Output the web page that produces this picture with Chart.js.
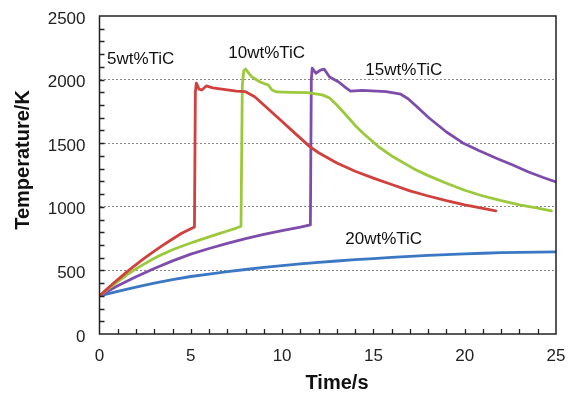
<!DOCTYPE html>
<html>
<head>
<meta charset="utf-8">
<script src="https://cdn.jsdelivr.net/npm/chart.js@4.4.0/dist/chart.umd.min.js"></script>
<style>
  html, body { margin: 0; padding: 0; background: #fff; }
  #wrap { width: 576px; height: 395px; }
</style>
</head>
<body>
<div id="wrap"><canvas id="tempChart" width="576" height="395"></canvas></div>
<script>
// time (s) / temperature (K)
const time5 = [0, 0.5, 1, 1.5, 2, 2.5, 3, 3.5, 4, 4.5, 5.2, 5.25, 5.3, 5.45, 5.6, 5.85, 6.2, 6.7, 7.5, 8.0, 8.5, 9, 9.5, 10, 10.5, 11, 11.5, 12, 13, 14, 15, 16, 17, 18, 19, 20, 21, 21.7]
const temp5 = [300, 365, 428, 488, 545, 600, 652, 700, 747, 792, 842, 1900, 1973, 1925, 1918, 1950, 1935, 1925, 1910, 1905, 1865, 1800, 1735, 1670, 1605, 1540, 1475, 1425, 1345, 1280, 1225, 1175, 1125, 1085, 1048, 1015, 988, 968]

const time10 = [0, 0.5, 1, 1.5, 2, 2.5, 3, 3.5, 4, 4.5, 5, 5.5, 6, 6.5, 7, 7.5, 7.75, 7.82, 7.9, 8.0, 8.35, 8.8, 9.25, 9.45, 9.7, 10.5, 11.4, 12.2, 12.6, 13.0, 13.5, 14, 14.5, 15.3, 16, 17.2, 18, 19, 20, 21, 22, 23, 24, 24.75]
const temp10 = [300, 358, 412, 465, 512, 555, 595, 630, 662, 690, 715, 740, 763, 787, 810, 833, 847, 1950, 2070, 2083, 2020, 1981, 1957, 1918, 1903, 1900, 1897, 1880, 1855, 1800, 1722, 1640, 1570, 1470, 1400, 1300, 1245, 1185, 1130, 1085, 1048, 1015, 990, 968]

const time15 = [0, 1, 2, 3, 4, 5, 6, 7, 8, 9, 10, 11, 11.55, 11.6, 11.65, 11.85, 12.1, 12.3, 12.6, 13.1, 13.5, 13.75, 14.4, 15.7, 16.5, 16.9, 17.4, 18.05, 19, 19.9, 20.8, 21.7, 22.6, 23.5, 24.3, 25]
const temp15 = [300, 380, 450, 515, 575, 628, 672, 712, 750, 783, 812, 840, 858, 2000, 2090, 2050, 2075, 2083, 2020, 1981, 1935, 1910, 1915, 1905, 1885, 1850, 1785, 1698, 1588, 1502, 1440, 1384, 1330, 1274, 1230, 1195]

const time20 = [0, 1, 2, 3, 4, 5, 6, 7, 8, 9, 10, 11, 12, 13, 14, 15, 16, 17, 18, 19, 20, 21, 22, 23, 24, 25]
const temp20 = [300, 335, 368, 400, 428, 452, 470, 490, 507, 523, 538, 552, 563, 574, 584, 593, 602, 610, 618, 624, 630, 635, 639, 642, 644, 645]

const seriesNames = ['5wt%TiC', '10wt%TiC', '15wt%TiC', '20wt%TiC']
const seriesColors = ['#d0403d', '#9cc93c', '#7e4dab', '#3b78c4']

// where the curve names sit, in data units (left edge / middle)
const noteTime = [0.41, 7.05, 14.56, 13.46]
const noteTemp = [2162, 2209, 2075, 747]

function pts(ts, vs) {
    return ts.map(function (t, i) { return { x: t, y: vs[i] } })
}

// frame, inner tick marks, curve names, axis titles
const decor = {
    id: 'decor',
    afterDatasetsDraw(chart) {
        const ctx = chart.ctx
        const a = chart.chartArea
        const xs = chart.scales.x
        const ys = chart.scales.y
        ctx.save()
        ctx.strokeStyle = '#222'
        ctx.lineWidth = 1.3
        ctx.beginPath()
        for (let v = 100; v < 2500; v += 100) {
            let py = Math.round(ys.getPixelForValue(v)) + 0.5
            ctx.moveTo(a.left, py)
            ctx.lineTo(a.left + 5, py)
        }
        for (let t = 1; t < 25; t++) {
            let px = Math.round(xs.getPixelForValue(t)) + 0.5
            ctx.moveTo(px, a.bottom)
            ctx.lineTo(px, a.bottom - 5)
        }
        ctx.stroke()
        ctx.lineWidth = 1.5
        ctx.strokeRect(a.left, a.top, a.right - a.left, a.bottom - a.top)

        ctx.fillStyle = '#111'
        ctx.font = '17px "Liberation Sans", Arial, sans-serif'
        ctx.textAlign = 'left'
        ctx.textBaseline = 'middle'
        for (let i = 0; i < seriesNames.length; i++) {
            ctx.fillText(seriesNames[i], xs.getPixelForValue(noteTime[i]), ys.getPixelForValue(noteTemp[i]))
        }

        ctx.font = 'bold 20px "Liberation Sans", Arial, sans-serif'
        ctx.textAlign = 'center'
        ctx.fillText('Time/s', 337, 383)
        ctx.translate(23, 160)
        ctx.rotate(-Math.PI / 2)
        ctx.fillText('Temperature/K', 0, 0)
        ctx.restore()
    }
}

let chartCtx = document.getElementById('tempChart')

var tempChart = new Chart(chartCtx, {
    type: 'line',
    data: {
        datasets: [
            { label: seriesNames[0], data: pts(time5, temp5), borderColor: seriesColors[0] },
            { label: seriesNames[1], data: pts(time10, temp10), borderColor: seriesColors[1] },
            { label: seriesNames[2], data: pts(time15, temp15), borderColor: seriesColors[2] },
            { label: seriesNames[3], data: pts(time20, temp20), borderColor: seriesColors[3] }
        ]
    },
    options: {
        responsive: false,
        animation: false,
        layout: { padding: { top: 16, right: 20, left: 0, bottom: 0 } },
        elements: {
            point: { radius: 0 },
            line: { borderWidth: 2.8, tension: 0, borderCapStyle: 'round', borderJoinStyle: 'round' }
        },
        plugins: { legend: { display: false }, tooltip: { enabled: false } },
        scales: {
            x: {
                type: 'linear',
                min: 0,
                max: 25,
                afterFit: function (s) {
                    s.height = 61
                    s.paddingLeft = 0
                    s.paddingRight = 0
                },
                grid: { display: false, drawTicks: false },
                border: { display: false },
                ticks: {
                    stepSize: 5,
                    padding: 12,
                    color: '#222',
                    maxRotation: 0,
                    font: { size: 17, family: '"Liberation Sans", Arial, sans-serif' }
                }
            },
            y: {
                min: 0,
                max: 2500,
                afterFit: function (s) {
                    s.width = 99.5
                    s.paddingTop = 0
                    s.paddingBottom = 0
                },
                grid: {
                    drawTicks: false,
                    lineWidth: 1,
                    color: function (c) {
                        let v = c.tick ? c.tick.value : 0
                        return (v > 0 && v < 2500) ? '#8a8a8a' : 'rgba(0,0,0,0)'
                    }
                },
                border: { display: false, dash: [2, 2] },
                ticks: {
                    stepSize: 500,
                    padding: 14,
                    labelOffset: 3,
                    color: '#222',
                    font: { size: 17, family: '"Liberation Sans", Arial, sans-serif' },
                    callback: function (v) { return String(v) }
                }
            }
        }
    },
    plugins: [decor]
})
</script>
</body>
</html>
